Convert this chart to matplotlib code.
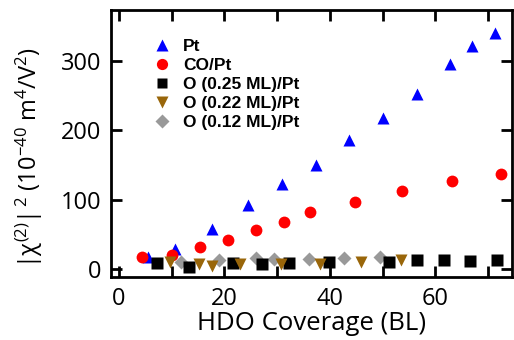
import matplotlib
matplotlib.use("Agg")
import matplotlib.pyplot as plt

plt.rcParams["font.family"] = ["Open Sans", "DejaVu Sans"]
plt.rcParams["mathtext.fontset"] = "custom"
plt.rcParams["mathtext.rm"] = "Open Sans"
plt.rcParams["mathtext.it"] = "Open Sans"

# HDO coverage (BL) and |chi(2)|^2 for each surface
pt_x = [5.5, 10.7, 17.7, 24.4, 30.9, 37.4, 43.7, 50.1, 56.5, 62.8, 67.0, 71.3]
pt_y = [18, 30, 57.5, 92.5, 122.7, 150, 186, 217.7, 252, 295, 321.7, 340]

co_x = [4.4, 10.0, 15.4, 20.7, 25.9, 31.2, 36.3, 44.8, 53.7, 63.1, 72.4]
co_y = [17.3, 20.6, 32.5, 42, 56.5, 67.6, 82.9, 96.4, 112.7, 127.5, 136.7]

o25_x = [7.3, 13.2, 21.6, 27.1, 32.3, 39.9, 51.1, 56.5, 61.7, 66.6, 71.7]
o25_y = [8.6, 3.7, 8.6, 7.2, 9.5, 10, 11, 13.4, 13, 11.5, 13.4]

o22_x = [9.6, 15.2, 17.6, 22.9, 30.8, 38.2, 45.8, 53.4]
o22_y = [10, 7.5, 5, 8.5, 8.5, 8.5, 11, 13.5]

o12_x = [11.7, 18.9, 25.9, 29.3, 36.1, 42.7, 49.4]
o12_y = [11, 13.4, 15.8, 14.4, 14.4, 15.8, 17.3]

fig = plt.figure(figsize=(5.14, 3.4), dpi=100)
ax = fig.add_axes([0.216, 0.185, 0.78, 0.786])

ms = 9
ax.plot(pt_x, pt_y, "^", color="#0000ff", ms=ms, mec="none", label="Pt")
ax.plot(co_x, co_y, "o", color="#ff0000", ms=ms - 0.5, mec="none", label="CO/Pt")
ax.plot(o12_x, o12_y, "D", color="#999999", ms=ms - 1.5, mec="none", label="O (0.12 ML)/Pt")
ax.plot(o25_x, o25_y, "s", color="#000000", ms=ms - 1, mec="none", label="O (0.25 ML)/Pt")
ax.plot(o22_x, o22_y, "v", color="#99660a", ms=ms, mec="none", label="O (0.22 ML)/Pt")

ax.set_xlim(-1.5, 74.5)
ax.set_ylim(-11, 373)
ax.set_xticks(range(0, 71, 10))
ax.set_xticklabels(["0", "", "20", "", "40", "", "60", ""])
ax.set_yticks([0, 100, 200, 300])

ax.tick_params(direction="in", top=True, right=True, length=8, width=2,
               labelsize=17, pad=7)
for s in ax.spines.values():
    s.set_linewidth(2)

ax.set_xlabel("HDO Coverage (BL)", fontsize=18.5, labelpad=0)
ax.set_ylabel("|χ$^{(2)}$|$^{\\,2}$ (10$^{-40}$ m$^4$/V$^2$)", fontsize=17)
ax.yaxis.set_label_coords(-0.165, 0.446)

handles, labels = ax.get_legend_handles_labels()
order = [0, 1, 3, 4, 2]
ax.legend([handles[i] for i in order], [labels[i] for i in order],
          loc="upper left", bbox_to_anchor=(0.075, 0.925), frameon=False,
          prop={"family": "Liberation Sans", "weight": "bold", "size": 12.5},
          handletextpad=0.5, labelspacing=0.22, handlelength=1.4,
          borderpad=0, markerscale=0.95)

fig.savefig("out.png", dpi=100)
